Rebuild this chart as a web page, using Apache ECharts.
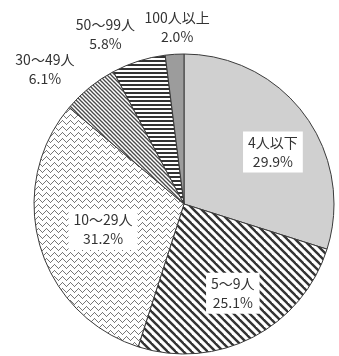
<!DOCTYPE html>
<html>
<head>
<meta charset="utf-8">
<script src="https://cdn.jsdelivr.net/npm/echarts@6/dist/echarts.min.js"></script>
<style>
  html, body { margin: 0; padding: 0; background: #fff; }
  #chart { width: 339px; height: 356px; }
</style>
</head>
<body>
<div id="chart"></div>
<script>
// Share of establishments by number of employees (%)
const categories = ['4人以下', '5～9人', '10～29人', '30～49人', '50～99人', '100人以上'];
const shares = [29.9, 25.1, 31.2, 6.1, 5.8, 2.0];

// Label nudges (px) relative to ECharts' inside-label anchor
const labelShift = [[26, -6], [13, 20], [-6, 4], [-90, -74], [-55, -95], [-2, -99]];
const labelBoxed = [true, true, true, false, false, false];

// Small repeating fill tiles
function tile(w, h, draw) {
  const c = document.createElement('canvas');
  c.width = w; c.height = h;
  const g = c.getContext('2d');
  g.fillStyle = '#fff';
  g.fillRect(0, 0, w, h);
  draw(g, w, h);
  return { image: c, repeat: 'repeat' };
}
function diagonal(size, width, color) {
  return tile(size, size, (g, w, h) => {
    g.strokeStyle = color;
    g.lineWidth = width;
    for (let k = -w; k <= w; k += w) {
      g.beginPath();
      g.moveTo(k - 1, -1);
      g.lineTo(k + w + 1, h + 1);
      g.stroke();
    }
  });
}
function horizontal(size, width, color) {
  return tile(size, size, (g, w) => {
    g.fillStyle = color;
    g.fillRect(0, 0, w, width);
  });
}
function wave(w, h, color) {
  return tile(w, h, (g) => {
    g.fillStyle = color;
    for (let x = 0; x < w; x++) {
      const y = 2 + 1.6 * Math.sin((x / w) * Math.PI * 2);
      g.fillRect(x, Math.round(y), 1, 1);
    }
  });
}

const fills = [
  '#d0d0d0',
  diagonal(8, 2.4, '#333'),
  wave(8, 6, '#777'),
  diagonal(4, 1.3, '#4a4a4a'),
  horizontal(4, 2, '#333'),
  '#9c9c9c'
];

const chart = echarts.init(document.getElementById('chart'), null, { renderer: 'canvas' });

chart.setOption({
  animation: false,
  series: [{
    type: 'pie',
    center: [184, 204],
    radius: [0, 150],
    startAngle: 90,
    clockwise: true,
    avoidLabelOverlap: false,
    emphasis: { disabled: true },
    itemStyle: { borderColor: '#3a3a3a', borderWidth: 1 },
    labelLine: { show: false },
    label: {
      position: 'inside',
      color: '#333',
      fontFamily: '"Noto Sans CJK JP", "Noto Sans", sans-serif',
      fontSize: 14,
      lineHeight: 19,
      align: 'center',
      formatter: (p) => p.name + '\n' + p.value.toFixed(1) + '%'
    },
    labelLayout: (p) => ({ dx: labelShift[p.dataIndex][0], dy: labelShift[p.dataIndex][1] }),
    data: categories.map((name, i) => ({
      name: name,
      value: shares[i],
      itemStyle: { color: fills[i] },
      label: labelBoxed[i]
        ? { backgroundColor: '#fff', padding: [2, 5, 1, 5] }
        : {}
    }))
  }]
});
</script>
</body>
</html>
